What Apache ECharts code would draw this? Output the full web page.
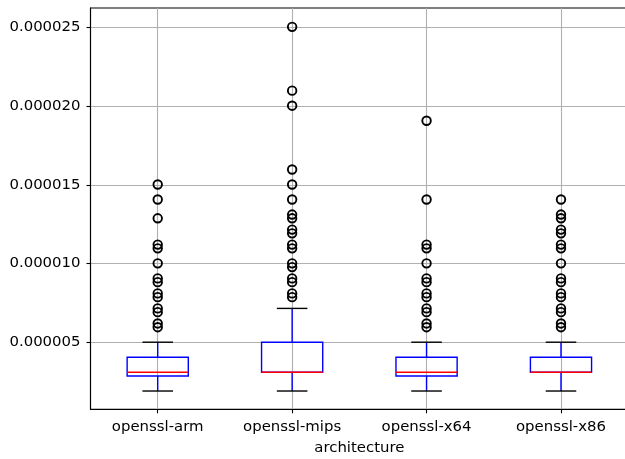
<!DOCTYPE html>
<html>
<head>
<meta charset="utf-8">
<script src="https://cdn.jsdelivr.net/npm/echarts@6/dist/echarts.min.js"></script>
<style>
  html, body { margin: 0; padding: 0; background: #fff; }
  #chart { width: 625px; height: 459px; }
</style>
</head>
<body>
<div id="chart"></div>
<script>
const categories = ['openssl-arm', 'openssl-mips', 'openssl-x64', 'openssl-x86'];
// low whisker, q1, median, q3, high whisker
const armBox = [1.907e-6, 2.861e-6, 3.099e-6, 4.053e-6, 5.007e-6];
const mipsBox = [1.907e-6, 3.099e-6, 3.099e-6, 5.007e-6, 7.153e-6];
const x64Box = [1.907e-6, 2.861e-6, 3.099e-6, 4.053e-6, 5.007e-6];
const x86Box = [1.907e-6, 3.099e-6, 3.099e-6, 4.053e-6, 5.007e-6];

const armOutliers = [15.020e-6, 14.067e-6, 12.875e-6, 11.206e-6, 10.967e-6, 10.014e-6, 9.060e-6,
  8.822e-6, 8.106e-6, 7.868e-6, 7.153e-6, 6.914e-6, 6.199e-6, 5.960e-6];
const mipsOutliers = [25.034e-6, 20.981e-6, 20.027e-6, 15.974e-6, 15.020e-6, 14.067e-6, 13.113e-6,
  12.875e-6, 12.159e-6, 11.921e-6, 11.206e-6, 10.967e-6, 10.014e-6, 9.775e-6, 9.060e-6, 8.822e-6,
  8.106e-6, 7.868e-6];
const x64Outliers = [19.073e-6, 14.067e-6, 11.206e-6, 10.967e-6, 10.014e-6, 9.060e-6, 8.822e-6,
  8.106e-6, 7.868e-6, 7.153e-6, 6.914e-6, 6.199e-6, 5.960e-6];
const x86Outliers = [14.067e-6, 13.113e-6, 12.875e-6, 12.159e-6, 11.921e-6, 11.206e-6, 10.967e-6,
  10.014e-6, 9.060e-6, 8.822e-6, 8.106e-6, 7.868e-6, 7.153e-6, 6.914e-6, 6.199e-6, 5.960e-6];

const yTicks = [5e-6, 10e-6, 15e-6, 20e-6, 25e-6];

const boxes = [armBox, mipsBox, x64Box, x86Box];
const outliers = [armOutliers, mipsOutliers, x64Outliers, x86Outliers];

const boxData = boxes.map((b, i) => [i].concat(b));
const flierData = [];
outliers.forEach((list, i) => list.forEach(v => flierData.push([i, v])));

const font = 'DejaVu Sans';
const fontSize = 14.9;

function renderBox(params, api) {
    const x = api.value(0);
    const low = api.coord([x, api.value(1)]);
    const q1 = api.coord([x, api.value(2)]);
    const med = api.coord([x, api.value(3)]);
    const q3 = api.coord([x, api.value(4)]);
    const high = api.coord([x, api.value(5)]);
    const band = api.size([1, 0])[0];
    const bw = band * 0.455;
    const cw = bw / 2;
    const cx = low[0];
    const lw = 1.4;
    return {
        type: 'group',
        children: [
            { type: 'line', shape: { x1: cx, y1: q1[1], x2: cx, y2: low[1] }, style: { stroke: '#0000ff', lineWidth: lw } },
            { type: 'line', shape: { x1: cx, y1: q3[1], x2: cx, y2: high[1] }, style: { stroke: '#0000ff', lineWidth: lw } },
            { type: 'line', shape: { x1: cx - cw / 2, y1: low[1], x2: cx + cw / 2, y2: low[1] }, style: { stroke: '#000', lineWidth: lw } },
            { type: 'line', shape: { x1: cx - cw / 2, y1: high[1], x2: cx + cw / 2, y2: high[1] }, style: { stroke: '#000', lineWidth: lw } },
            { type: 'rect', shape: { x: cx - bw / 2, y: q3[1], width: bw, height: q1[1] - q3[1] }, style: { fill: 'none', stroke: '#0000ff', lineWidth: lw } },
            { type: 'line', shape: { x1: cx - bw / 2, y1: med[1], x2: cx + bw / 2, y2: med[1] }, style: { stroke: '#ff0000', lineWidth: lw }, z2: 5 }
        ]
    };
}

const myChart = echarts.init(document.getElementById('chart'), null, { renderer: 'canvas' });

myChart.setOption({
    animation: false,
    backgroundColor: '#fff',
    grid: {
        left: 90.5, width: 537.7, top: 8, bottom: 49.7,
        outerBoundsMode: 'none',
        containLabel: false,
        show: true, borderColor: '#000', borderWidth: 1.1
    },
    xAxis: {
        type: 'category',
        data: categories,
        boundaryGap: true,
        name: 'architecture',
        nameLocation: 'middle',
        nameGap: 31,
        nameTextStyle: { fontFamily: font, fontSize: fontSize, color: '#000' },
        axisLine: { show: true, lineStyle: { color: '#000', width: 1.1 } },
        axisTick: { show: true, alignWithLabel: true, length: 4, inside: false, lineStyle: { color: '#000', width: 1.1 } },
        axisLabel: { fontFamily: font, fontSize: fontSize, color: '#000', margin: 10 },
        splitLine: { show: true, alignWithLabel: true, lineStyle: { color: '#b0b0b0', width: 1.1 } }
    },
    yAxis: {
        type: 'value',
        min: 0.746e-6,
        max: 26.23e-6,
        axisLine: { show: true, lineStyle: { color: '#000', width: 1.1 } },
        axisTick: { show: true, length: 4, customValues: yTicks, lineStyle: { color: '#000', width: 1.1 } },
        axisLabel: {
            fontFamily: font, fontSize: fontSize, color: '#000', margin: 10,
            customValues: yTicks,
            formatter: v => v.toFixed(6)
        },
        splitLine: { show: true, customValues: yTicks, lineStyle: { color: '#b0b0b0', width: 1.1 } }
    },
    series: [
        {
            type: 'custom',
            renderItem: renderBox,
            data: boxData,
            encode: { x: 0, y: [1, 2, 3, 4, 5] },
            z: 3
        },
        {
            type: 'scatter',
            data: flierData,
            symbol: 'circle',
            symbolSize: 8.5,
            itemStyle: { color: 'transparent', borderColor: '#000', borderWidth: 1.9, opacity: 1 },
            z: 4
        }
    ]
});
</script>
</body>
</html>
